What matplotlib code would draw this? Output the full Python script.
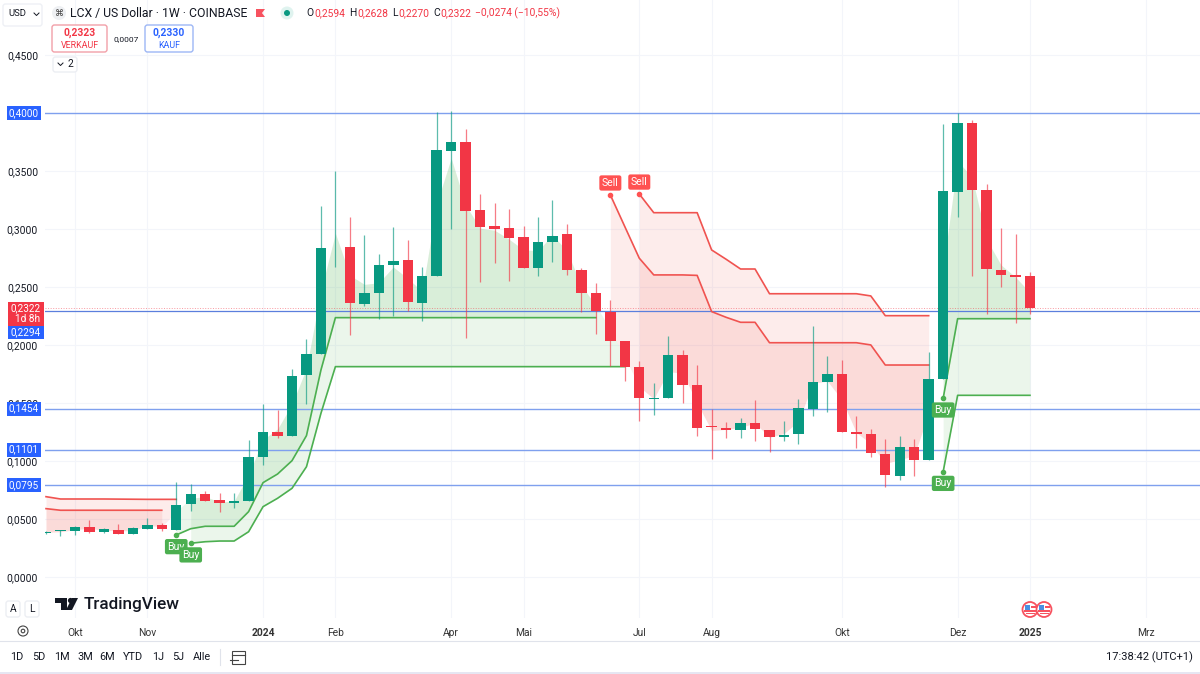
import numpy as np
import matplotlib
matplotlib.use("Agg")
import matplotlib.pyplot as plt
from matplotlib.patches import Rectangle, FancyBboxPatch, Circle, Polygon

plt.rcParams['font.family'] = ['Roboto', 'DejaVu Sans']

# weekly candles
opens = [.0385, .0398, .0400, .0435, .0389, .0412, .0372, .0420, .0452, .0412,
         .0633, .0719, .0667, .0642, .0656, .1035, .1253, .1219, .1742, .1925,
         .2835, .2847, .2358, .2450, .2694, .2732, .2367, .2597, .3676, .3751,
         .3168, .3030, .3008, .2933, .2663, .2892, .2956, .2649, .2448, .2289,
         .2040, .1816, .1538, .1546, .1919, .1661, .1300, .1290, .1270, .1333,
         .1270, .1207, .1233, .1454, .1681, .1753, .1256, .1233, .1066, .0874,
         .1124, .1015, .1707, .3323, .3917, .3335, .2651, .2605, .2594]
closes = [.0394, .0409, .0435, .0389, .0418, .0377, .0424, .0452, .0420, .0627,
          .0719, .0662, .0642, .0660, .1038, .1253, .1219, .1733, .1922, .2835,
          .2840, .2367, .2453, .2694, .2726, .2373, .2600, .3682, .3751, .3157,
          .3022, .3004, .2924, .2663, .2890, .2944, .2646, .2450, .2295, .2040,
          .1816, .1543, .1549, .1919, .1661, .1290, .1296, .1273, .1333, .1279,
          .1207, .1230, .1463, .1684, .1753, .1251, .1233, .1070, .0883, .1124,
          .1009, .1707, .3326, .3912, .3335, .2657, .2603, .2591, .2322]
highs = [.0398, .0412, .0444, .0495, .0426, .0458, .0435, .0510, .0472, .0825,
         .0805, .0745, .0725, .0730, .1184, .1492, .1443, .1796, .2054, .3200,
         .3501, .3108, .2950, .2784, .3022, .2904, .2677, .4007, .4018, .3860,
         .3301, .3223, .3171, .3030, .3102, .3252, .3045, .2665, .2534, .2390,
         .2040, .1867, .1673, .2080, .1960, .1833, .1449, .1342, .1371, .1529,
         .1270, .1351, .1540, .2166, .1908, .1873, .1391, .1279, .1196, .1221,
         .1196, .1940, .3906, .4003, .3941, .3389, .3008, .2959, .2628]
lows = [.0378, .0360, .0366, .0383, .0383, .0372, .0372, .0420, .0403, .0412,
        .0570, .0662, .0567, .0599, .0656, .0969, .1199, .1219, .1494, .1925,
        .2677, .2091, .2338, .2227, .2255, .2293, .2212, .2597, .2999, .2060,
        .2543, .2706, .2551, .2663, .2600, .2715, .2603, .2287, .2100, .1824,
        .1695, .1348, .1397, .1546, .1500, .1221, .1023, .1199, .1199, .1178,
        .1081, .1173, .1150, .1391, .1425, .1251, .1113, .1035, .0782, .0840,
        .0874, .1015, .1707, .3102, .2600, .2267, .2505, .2195, .2270]

# trend bands: (first bar, values)
red_upper_a = (0, [.0696, .0676, .0676, .0676, .0676, .0675, .0674, .0673, .0673, .0673])
red_lower_a = (0, [.0593, .0579, .0579, .0579, .0579, .0579, .0579, .0579, .0579])
red_lower_b = (39, [.3295, .3022, .2750, .2606, .2606, .2606, .2602, .2290, .2241, .2198,
                    .2198, .2022, .2022, .2022, .2022, .2022, .2022, .2022, .2003, .1830,
                    .1830, .1830, .1830])
red_upper_b = (41, [.3303, .3142, .3142, .3142, .3142, .2821, .2741, .2657, .2657, .2444,
                    .2444, .2444, .2444, .2444, .2444, .2444, .2425, .2255, .2255, .2255,
                    .2255])
green_upper_a = (9, [.0366, .0420, .0441, .0441, .0441, .0567, .0817, .0891, .1006, .1222,
                     .1787, .2238] + [.2238] * 18)
green_lower_a = (10, [.0295, .0308, .0314, .0314, .0394, .0610, .0682, .0768, .0954, .1414,
                      .1816] + [.1816] * 20)
green_upper_b = (62, [.1543, .2229, .2229, .2229, .2229, .2229, .2229])
green_lower_b = (62, [.0911, .1569, .1569, .1569, .1569, .1569, .1569])

levels = [.4000, .1454, .1101, .0795]
current_level = .2294
last_close = .2322
y_ticks = [0, .05, .10, .15, .20, .25, .30, .35, .45]
month_pos = [2, 7, 15, 20, 28, 33, 41, 46, 55, 63, 68, 76]
month_labels = ['Okt', 'Nov', '2024', 'Feb', 'Apr', 'Mai', 'Jul', 'Aug', 'Okt', 'Dez', '2025', 'Mrz']
buy_signals = [(9, .0366), (10, .0295), (62, .1543), (62, .0911)]
sell_signals = [(39, .3295), (41, .3303)]

GREEN = '#089981'
RED = '#f23645'
BLUE = '#2962ff'
TEXT = '#131722'

W, H = 1200, 674
fig = plt.figure(figsize=(12, 6.74), dpi=100, facecolor='white')
ax = fig.add_axes([45 / W, 1 - 618 / H, 1155 / W, 618 / H])
ax.set_xlim(-0.07, 79.75)
ax.set_ylim(-.0349, .4974)
for s in ax.spines.values():
    s.set_visible(False)

o, c, h, l = map(np.array, (opens, closes, highs, lows))
ohlc4 = (o + c + h + l) / 4
bars = np.arange(len(o))

ax.set_axisbelow(True)
ax.grid(color='#f3f5fa', lw=0.8)
ax.set_yticks(y_ticks)
ax.set_yticklabels([f'{v:.4f}'.replace('.', ',') for v in y_ticks], fontsize=7.4, color=TEXT)
ax.set_xticks(month_pos)
ax.set_xticklabels(month_labels, fontsize=7.4, color='#333333')
for t, lab in zip(ax.get_xticklabels(), month_labels):
    if lab.startswith('20'):
        t.set_fontweight('bold')
ax.tick_params(length=0)
ax.tick_params(axis='y', pad=5)
ax.tick_params(axis='x', pad=7)


def band(spec, color, alpha):
    start, vals = spec
    xs = np.arange(start, start + len(vals))
    ax.fill_between(xs, vals, ohlc4[xs], color=color, alpha=alpha, lw=0, zorder=1)
    ax.plot(xs, vals, color=color, lw=1.2, zorder=2.5, solid_joinstyle='round')


for spec in (red_upper_a, red_lower_a, red_lower_b, red_upper_b):
    band(spec, '#f05350', 0.11)
for spec in (green_upper_a, green_lower_a, green_upper_b, green_lower_b):
    band(spec, '#4caf50', 0.11)

for lv in levels:
    ax.axhline(lv, color='#7fa0ee', lw=1.0, zorder=2)
ax.axhline(current_level, color='#5b7fdd', lw=0.9, zorder=2)
ax.axhline(last_close, color=RED, lw=0.7, ls=':', alpha=0.5, zorder=2)

colors = [GREEN if cl >= op else RED for op, cl in zip(o, c)]
ax.vlines(bars, l, h, colors=colors, lw=0.9, alpha=0.65, zorder=3)
ax.bar(bars, np.maximum(np.abs(c - o), .0006), bottom=np.minimum(o, c), width=0.72,
       color=colors, lw=0, zorder=4)

for x, y in buy_signals:
    ax.plot(x, y, 'o', ms=3, color='#4caf50', zorder=5)
    ax.annotate('Buy', (x, y), xytext=(0, -4.8), textcoords='offset points', ha='center', va='top',
                fontsize=7.6, color='white', zorder=6, annotation_clip=False,
                bbox=dict(boxstyle='round,pad=0.25,rounding_size=0.2', fc='#4caf50', ec='none'))
for x, y in sell_signals:
    ax.plot(x, y, 'o', ms=3, color='#ff5252', zorder=5)
    ax.annotate('Sell', (x, y), xytext=(0, 5), textcoords='offset points', ha='center', va='bottom',
                fontsize=7.6, color='white', zorder=6, annotation_clip=False,
                bbox=dict(boxstyle='round,pad=0.25,rounding_size=0.2', fc='#ff5252', ec='none'))

# price scale tags
for lv in levels:
    ax.annotate(f'{lv:.4f}'.replace('.', ','), (0, lv), xycoords=('axes fraction', 'data'),
                xytext=(-4.3, 0), textcoords='offset points', ha='right', va='center',
                fontsize=7.2, color='white', annotation_clip=False, zorder=8,
                bbox=dict(boxstyle='square,pad=0.2', fc=BLUE, ec='none'))

# interface furniture, in pixels
ui = fig.add_axes([0, 0, 1, 1], zorder=10)
ui.set_xlim(0, W)
ui.set_ylim(H, 0)
ui.axis('off')
ui.patch.set_alpha(0)


def box(x0, y0, x1, y1, fc='white', ec='#e0e3eb', lw=1, r=2.5):
    ui.add_patch(FancyBboxPatch((x0, y0), x1 - x0, y1 - y0, boxstyle=f'round,pad=0,rounding_size={r}',
                                fc=fc, ec=ec, lw=lw))


ui.add_patch(Rectangle((8, 302), 36, 24, fc=RED, ec='none'))
ui.add_patch(Rectangle((8, 326), 36, 13, fc=BLUE, ec='none'))
ui.text(26, 308, '0,2322', ha='center', va='center', fontsize=7.2, color='white')
ui.text(28, 319, '1d 8h', ha='center', va='center', fontsize=7.2, color='white')
ui.text(26, 332.5, '0,2294', ha='center', va='center', fontsize=7.2, color='white')

# header
box(3, 4, 42, 26, ec='#eef0f5')
ui.text(17, 14, 'USD', ha='center', va='center', fontsize=6.8, color=TEXT)
ui.plot([34, 36.5, 39], [13, 15.5, 13], color=TEXT, lw=0.7)
ui.add_patch(Circle((59, 13), 7, fc='#eef0f3', ec='none'))
ui.text(59, 13, '⌘', ha='center', va='center', fontsize=6.5, color='#444444')
ui.text(70, 13, 'LCX / US Dollar · 1W · COINBASE', va='center', fontsize=8.8, color=TEXT)
ui.add_patch(Polygon([(256, 9), (265, 9), (262, 13), (265, 17), (256, 17)], fc='#f7525f', ec='none'))
ui.add_patch(Circle((287, 13), 6.5, fc='#dff3ef', ec='none'))
ui.add_patch(Circle((287, 13), 3, fc=GREEN, ec='none'))
for x, s, col in [(306.5, 'O', TEXT), (314, '0,2594', RED), (349, 'H', TEXT), (357, '0,2628', RED),
                  (392, 'L', TEXT), (398, '0,2270', RED), (433, 'C', TEXT), (440, '0,2322', RED),
                  (475, '−0,0274 (−10,55%)', RED)]:
    ui.text(x, 13, s, va='center', fontsize=7.4, color=col)

box(52, 25, 107, 52, ec='#f2a0a8')
ui.text(79.5, 33, '0,2323', ha='center', va='center', fontsize=7.4, color=RED, fontweight='bold')
ui.text(79.5, 45, 'VERKAUF', ha='center', va='center', fontsize=6.4, color=RED)
ui.text(126, 39, '0,0007', ha='center', va='center', fontsize=6, color=TEXT)
box(145, 25, 193, 52, ec='#9db7f5')
ui.text(169, 33, '0,2330', ha='center', va='center', fontsize=7.4, color=BLUE, fontweight='bold')
ui.text(169, 45, 'KAUF', ha='center', va='center', fontsize=6.4, color=BLUE)
box(53, 57, 77, 72, ec='#eceef3')
ui.plot([58, 60.5, 63], [63, 65.5, 63], color=TEXT, lw=0.7)
ui.text(70, 64, '2', ha='center', va='center', fontsize=7.4, color=TEXT)

# logo and axis buttons
ui.add_patch(Polygon([(55, 598), (67, 598), (67, 610), (61, 610), (61, 603), (55, 603)], fc=TEXT, ec='none'))
ui.add_patch(Circle((70.5, 600.5), 2.6, fc=TEXT, ec='none'))
ui.add_patch(Polygon([(72, 598), (78, 598), (72, 610), (66, 610)], fc=TEXT, ec='none'))
ui.text(84, 604, 'TradingView', va='center', fontsize=12.3, fontweight='medium', color=TEXT)
for x, s in [(13, 'A'), (32, 'L')]:
    box(x - 7, 601, x + 7, 617, ec='#eceef3')
    ui.text(x, 609, s, ha='center', va='center', fontsize=7.4, color=TEXT)
ui.add_patch(Circle((23, 631), 5, fc='white', ec='#444444', lw=0.8))
ui.add_patch(Circle((23, 631), 1.8, fc='white', ec='#444444', lw=0.8))

# event flags
for x in (1030, 1044):
    ui.add_patch(Circle((x, 609.5), 7.5, fc='white', ec='#f7525f', lw=1.3))
    ui.add_patch(Rectangle((x - 5.5, 605), 5.5, 4.5, fc='#4a90e2', ec='none'))
    ui.add_patch(Rectangle((x - 6, 610), 12, 1.6, fc='#f7525f', ec='none'))
    ui.add_patch(Rectangle((x + 0.5, 606), 5, 1.6, fc='#f7525f', ec='none'))
    ui.add_patch(Rectangle((x - 4.5, 613), 9, 1.4, fc='#f7525f', ec='none'))

# bottom bar
ui.plot([0, W], [641, 641], color='#e0e3eb', lw=0.8)
for x, s in [(17, '1D'), (39, '5D'), (62, '1M'), (85, '3M'), (107, '6M'), (133, 'YTD'),
             (158, '1J'), (178, '5J'), (202, 'Alle')]:
    ui.text(x, 657, s, ha='center', va='center', fontsize=7.8, color=TEXT)
ui.plot([220, 220], [649, 665], color='#e0e3eb', lw=0.8)
ui.add_patch(Rectangle((232, 651), 13, 13, fc='none', ec='#444444', lw=0.8))
ui.plot([232, 245], [654.5, 654.5], color='#444444', lw=0.8)
ui.plot([230, 238], [660, 660], color='#444444', lw=0.8)
ui.text(1193, 657, '17:38:42 (UTC+1)', ha='right', va='center', fontsize=8, color=TEXT)
ui.add_patch(Rectangle((0, 672), W, 2, fc='#e6e6f2', ec='none'))

fig.savefig('out.png', dpi=100)
